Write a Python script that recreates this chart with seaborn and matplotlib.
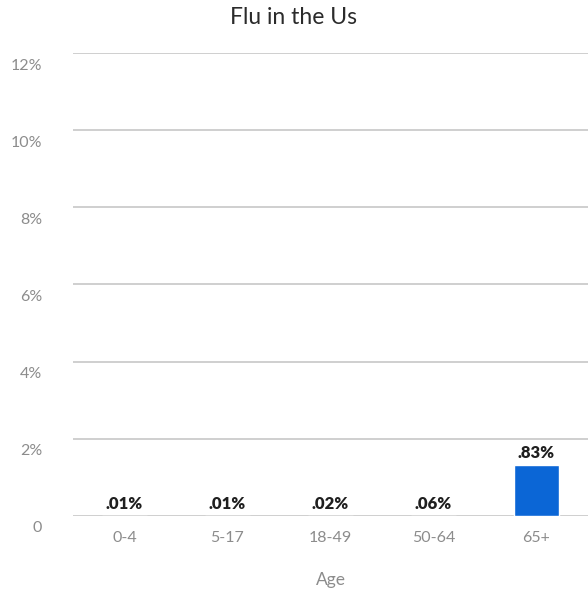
import matplotlib
matplotlib.use("Agg")
import matplotlib.pyplot as plt
import matplotlib.transforms as mtransforms
import seaborn as sns
import pandas as pd

categories = ["0-4", "5-17", "18-49", "50-64", "65+"]
bar_heights = [0.0, 0.0, 0.0, 0.0, 1.32]
value_labels = [".01%", ".01%", ".02%", ".06%", ".83%"]
y_ticks = [0, 2, 4, 6, 8, 10, 12]
y_tick_labels = ["0", "2%", "4%", "6%", "8%", "10%", "12%"]

sns.set_theme(style="white")
plt.rcParams["font.family"] = ["Lato", "DejaVu Sans"]

df = pd.DataFrame({"Age": categories, "value": bar_heights})

fig = plt.figure(figsize=(5.88, 5.89), dpi=100)
ax = fig.add_axes([0.124, 0.124, 0.876, 0.786])

sns.barplot(data=df, x="Age", y="value", color="#0b66d6", width=0.43,
            saturation=1, ax=ax, zorder=3)

ax.set_ylim(0, 12)
ax.set_yticks(y_ticks)
ax.set_yticklabels(y_tick_labels)
ax.yaxis.grid(True, color="#cccccc", linewidth=1.3, zorder=0)
ax.xaxis.grid(False)
for s in ax.spines.values():
    s.set_visible(False)
ax.tick_params(axis="y", length=0, pad=22, labelsize=11.5, labelcolor="#8c8c8c")
ax.tick_params(axis="x", length=0, pad=11, labelsize=11.5, labelcolor="#8c8c8c")
offset = mtransforms.ScaledTranslation(0, -11 / 100, fig.dpi_scale_trans)
for lbl in ax.get_yticklabels():
    lbl.set_transform(lbl.get_transform() + offset)

for i, (h, t) in enumerate(zip(bar_heights, value_labels)):
    ax.annotate(t, (i, h), xytext=(0, 3), textcoords="offset points",
                ha="center", va="bottom", fontsize=12, fontweight="heavy",
                color="#1f1f1f")

ax.set_xlabel("Age", fontsize=12.5, color="#8c8c8c", labelpad=19)
ax.set_ylabel("")
fig.suptitle("Flu in the Us", fontsize=16.5, color="#2b2b2b", y=0.988)

fig.savefig("out.png", dpi=100)
